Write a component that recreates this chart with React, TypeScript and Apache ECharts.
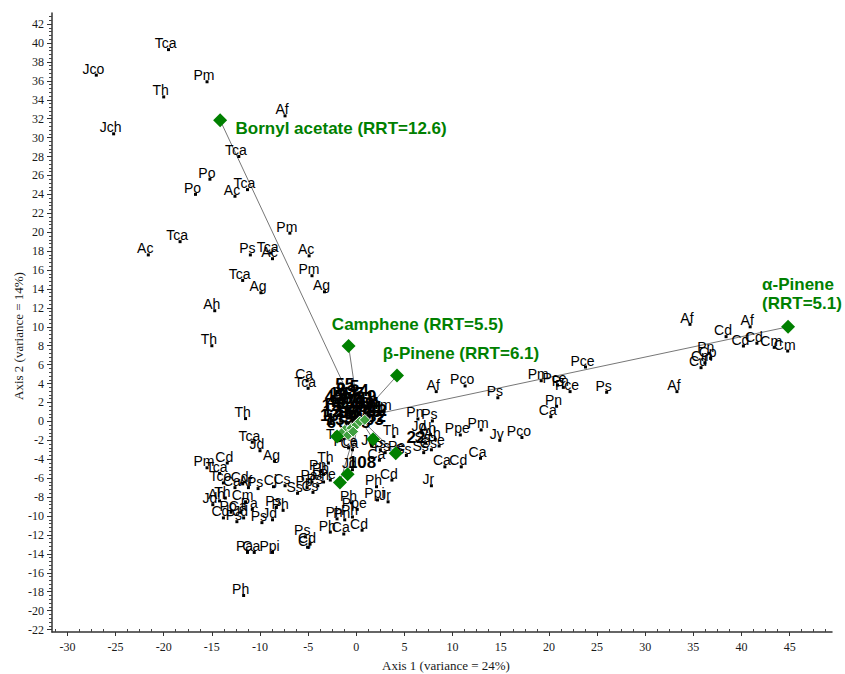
import React, { useEffect, useRef } from "react";
import * as echarts from "echarts";

// ---- axis ticks ----
const X_TICKS = [-30, -25, -20, -15, -10, -5, 0, 5, 10, 15, 20, 25, 30, 35, 40, 45];
const Y_TICKS = [-22, -20, -18, -16, -14, -12, -10, -8, -6, -4, -2, 0, 2, 4, 6, 8, 10, 12, 14, 16, 18, 20, 22, 24, 26, 28, 30, 32, 34, 36, 38, 40, 42];
const X_RANGE = [-31.6, 49.4];
const Y_RANGE = [-22.26, 43.17];

// ---- sample scores [x, y, label] ----
const samplesTop: [number, number, string][] = [
  [-19.5, 39.3, "Tca"], [-27.0, 36.6, "Jco"], [-15.5, 35.9, "Pm"], [-20.0, 34.3, "Th"],
  [-7.4, 32.3, "Af"], [-25.2, 30.4, "Jch"], [-12.2, 28.0, "Tca"], [-15.2, 25.6, "Po"],
  [-16.7, 24.0, "Po"], [-12.6, 23.8, "Ac"], [-11.3, 24.5, "Tca"], [-6.9, 19.9, "Pm"],
  [-18.3, 19.0, "Tca"], [-21.6, 17.6, "Ac"], [-11.0, 17.6, "Ps"], [-8.9, 17.8, "Tca"],
  [-8.7, 17.2, "Ac"], [-4.9, 17.5, "Ac"], [-4.6, 15.4, "Pm"], [-3.3, 13.7, "Ag"],
  [-11.8, 14.9, "Tca"], [-9.9, 13.6, "Ag"], [-14.7, 11.7, "Ah"], [-15.0, 8.0, "Th"],
  [-5.1, 4.3, "Ca"], [-5.0, 3.5, "Tca"], [-11.5, 0.3, "Th"],
];
const samplesLeft: [number, number, string][] = [
  [-10.8, -2.2, "Tca"], [-10.0, -3.1, "Jd"], [-8.5, -4.2, "Ag"], [-15.5, -4.9, "Pm"],
  [-13.4, -4.4, "Cd"], [-14.2, -5.5, "Tca"], [-13.8, -6.5, "Tco"], [-12.6, -7.0, "Ca"],
  [-11.8, -6.6, "Cd"], [-11.2, -7.0, "Af"], [-10.2, -7.1, "Ps"], [-8.6, -6.9, "Cj"],
  [-7.4, -6.8, "Cs"], [-6.1, -7.6, "Ss"], [-5.1, -7.0, "Pp"], [-4.6, -6.4, "Pa"],
  [-4.0, -6.8, "Ps"], [-4.5, -7.5, "Cs"], [-3.7, -5.3, "Pn"], [-3.4, -6.4, "Ph"],
  [-2.7, -6.2, "Pe"], [-2.9, -4.4, "Th"], [-3.4, -5.6, "Ph"], [-0.4, -5.1, "Jd"],
  [-14.9, -8.8, "Jd"], [-14.2, -8.4, "Ah"], [-13.6, -8.1, "Th"], [-11.5, -8.5, "Cm"],
  [-10.8, -9.3, "Pa"], [-13.0, -9.6, "Po"], [-12.0, -9.6, "Ca"], [-13.8, -10.2, "Cd"],
  [-12.4, -10.6, "Ps"], [-11.7, -10.2, "Jd"], [-9.8, -10.7, "Ps"], [-8.7, -10.4, "Jd"],
  [-7.6, -9.4, "Ph"], [-8.3, -9.1, "Ps"], [-11.3, -13.85, "Pa"], [-10.6, -13.85, "Ca"],
  [-8.7, -13.85, "Ppi"], [-11.7, -18.4, "Ph"], [-5.3, -12.2, "Ps"], [-5.06, -13.3, "Cj"],
  [-4.8, -12.97, "Cd"], [-2.7, -11.7, "Ph"], [-1.3, -11.9, "Ca"], [0.6, -11.5, "Cd"],
  [-2.0, -10.3, "Ph"], [-1.2, -10.4, "Pn"], [-0.4, -10.1, "Ph"], [0.1, -9.3, "Ppe"],
  [-0.5, -8.6, "Ph"],
];
const samplesRight: [number, number, string][] = [
  [2.1, -6.9, "Ph"], [3.7, -6.2, "Cd"], [2.2, -8.3, "Ppi"], [3.3, -8.5, "Jr"],
  [8.3, 3.15, "Af"], [11.3, 3.75, "Pco"], [14.7, 2.5, "Ps"], [19.2, 4.3, "Pm"],
  [20.9, 3.85, "Pce"], [21.5, 3.6, "Pn"], [22.2, 3.15, "Pce"], [23.8, 5.75, "Pce"],
  [26.0, 3.08, "Ps"], [20.8, 1.6, "Pn"], [20.2, 0.5, "Ca"], [33.3, 3.15, "Af"],
  [34.65, 10.26, "Af"], [40.9, 10.0, "Af"], [38.4, 8.96, "Cd"], [40.2, 7.97, "Cd"],
  [41.6, 8.26, "Cd"], [43.4, 7.83, "Cm"], [44.8, 7.44, "Cm"], [36.6, 7.2, "Pn"],
  [36.8, 6.67, "Cp"], [35.8, 5.68, "Cd"], [36.2, 6.2, "Cm"],
  [6.4, 0.26, "Pn"], [7.9, 0.05, "Ps"], [6.8, -1.2, "Jd"], [7.7, -1.4, "Ah"],
  [8.2, -1.9, "Ah"], [7.2, -2.3, "Ss"], [8.6, -2.6, "Pe"], [7.0, -3.3, "Ss"],
  [7.8, -3.0, "Cs"], [10.8, -1.43, "Ppe"], [12.96, -0.9, "Pm"], [14.9, -2.0, "Jv"],
  [17.2, -1.7, "Pco"], [12.9, -3.9, "Ca"], [9.2, -4.8, "Ca"], [10.9, -4.8, "Cd"],
  [7.8, -6.8, "Jr"], [3.9, -1.6, "Th"], [2.5, -3.0, "Cs"], [3.0, -3.3, "Ps"],
  [4.5, -3.3, "Pe"], [5.2, -3.6, "Ss"], [2.4, -4.1, "Ca"], [-1.7, -2.0, "Tca"],
  [-0.8, -2.8, "Pce"], [-0.4, -3.0, "Ca"], [1.6, -2.6, "Jd"], [2.9, 1.1, "Pm"],
];

// ---- compound (variable) labels near the origin ----
const loadingLabels: [number, number, string][] = [
  [-1.2, 3.85, "55"], [-0.2, 3.7, "5"], [-0.9, 2.7, "37"], [0.3, 2.9, "7"],
  [-1.4, 1.9, "1"], [0.2, 2.2, "71"], [-2.5, 1.1, "12"], [-1.2, 1.0, "15"],
  [0.0, 1.4, "47"], [1.1, 1.6, "60"], [1.6, 1.0, "28"], [2.7, 1.2, "2"],
  [-1.7, 0.2, "135"], [1.4, 0.2, "103"], [-0.3, 0.4, "94"], [-2.1, 2.1, "44"],
  [0.6, 0.7, "18"], [-0.7, 1.5, "33"], [0.9, 2.5, "81"], [-1.8, 2.9, "10"],
  [1.4, 1.9, "64"], [-0.5, 3.2, "3"], [-2.8, 0.6, "13"], [-2.6, 1.7, "19"],
  [-2.3, 2.6, "45"], [-1.6, 3.4, "8"], [-0.4, 2.4, "50"], [0.8, 3.3, "4"],
  [-0.9, 0.9, "96"], [0.4, 1.1, "77"], [1.9, 1.5, "11"], [2.1, 0.5, "32"],
  [-2.6, -0.1, "6"], [-0.9, -0.1, "52"], [0.5, -0.1, "85"], [-1.4, 2.4, "26"],
  [0.9, 1.9, "39"], [-0.2, 1.9, "58"], [1.6, 2.6, "9"],
  [6.2, -1.75, "22"], [0.6, -4.3, "108"],
];
const VECTOR_ORIGIN: [number, number] = [0.3, 0.4];
const namedVectors: [number, number, string][] = [
  [-14.14, 31.84, "Bornyl acetate (RRT=12.6)"],
  [-0.8, 7.97, "Camphene (RRT=5.5)"],
  [4.23, 4.84, "β-Pinene (RRT=6.1)"],
  [44.84, 10.0, "α-Pinene\n(RRT=5.1)"],
];
const unnamedVectors: [number, number][] = [
  [-2.0, -1.6], [1.75, -1.88], [4.1, -3.36], [-1.7, -6.46], [-0.9, -5.58],
];
const minorVectors: [number, number][] = [
  [-1.19, -0.9], [-0.5, -0.72], [0.02, -0.37], [0.36, -0.02],
  [-1.53, -1.25], [-0.85, -1.43], [-0.33, -1.08], [0.88, 0.16],
];

const GREEN = "#008000";
const labelOffsets: Record<string, { offset: number[]; align: string }> = {
  "Bornyl acetate (RRT=12.6)": { offset: [121, 8], align: "center" },
  "Camphene (RRT=5.5)": { offset: [69, -22], align: "center" },
  "β-Pinene (RRT=6.1)": { offset: [64, -22], align: "center" },
  "α-Pinene\n(RRT=5.1)": { offset: [-26, -33], align: "left" },
};

export default function App() {
  const ref = useRef<HTMLDivElement>(null);
  useEffect(() => {
    document.body.style.margin = "0";
    if (!ref.current) return;
    const chart = echarts.init(ref.current, undefined, { renderer: "svg" });

    const xMinor: number[] = [];
    for (let k = -25; k <= 39; k++) {
      const v = k * 1.25;
      if (v % 5 !== 0) xMinor.push(v);
    }
    const yMinor: number[] = [];
    for (let k = -55; k <= 107; k++) {
      const v = Math.round(k * 4) / 10;
      if (Math.abs(v % 2) > 1e-6) yMinor.push(v);
    }

    const allSamples = [...samplesTop, ...samplesLeft, ...samplesRight];
    const allVectorTips: [number, number][] = [
      ...namedVectors.map((v) => [v[0], v[1]] as [number, number]),
      ...unnamedVectors,
      ...minorVectors,
    ];

    const axisFont = { fontFamily: "Liberation Serif, Times New Roman, serif", fontSize: 12, color: "#1a1a1a" };

    chart.setOption({
      animation: false,
      grid: { left: 52, right: 13, top: 13, bottom: 42, containLabel: false },
      xAxis: [
        {
          type: "value", min: X_RANGE[0], max: X_RANGE[1],
          axisLine: { show: true, onZero: false, lineStyle: { color: "#333", width: 1.5 } },
          axisTick: { show: true, customValues: X_TICKS, length: 4, lineStyle: { color: "#333" } },
          axisLabel: { customValues: X_TICKS, margin: 9, ...axisFont },
          splitLine: { show: false },
        },
        {
          type: "value", min: X_RANGE[0], max: X_RANGE[1], position: "bottom",
          axisLine: { show: false, onZero: false },
          axisTick: { show: true, customValues: xMinor, length: 3, inside: true, lineStyle: { color: "#444" } },
          axisLabel: { show: false },
          splitLine: { show: false },
        },
      ],
      yAxis: [
        {
          type: "value", min: Y_RANGE[0], max: Y_RANGE[1],
          axisLine: { show: true, onZero: false, lineStyle: { color: "#333", width: 1.5 } },
          axisTick: { show: true, customValues: Y_TICKS, length: 5, lineStyle: { color: "#333" } },
          axisLabel: { customValues: Y_TICKS, margin: 8, ...axisFont },
          splitLine: { show: false },
        },
        {
          type: "value", min: Y_RANGE[0], max: Y_RANGE[1], position: "left",
          axisLine: { show: false, onZero: false },
          axisTick: { show: true, customValues: yMinor, length: 3, lineStyle: { color: "#444" } },
          axisLabel: { show: false },
          splitLine: { show: false },
        },
      ],
      graphic: [
        {
          type: "text", x: 446, y: 665,
          style: { text: "Axis 1 (variance = 24%)", font: "13px Liberation Serif, Times New Roman, serif", fill: "#1a1a1a", textAlign: "center", textVerticalAlign: "middle" },
        },
        {
          type: "text", x: 18, y: 336, rotation: Math.PI / 2,
          style: { text: "Axis 2 (variance = 14%)", font: "13px Liberation Serif, Times New Roman, serif", fill: "#1a1a1a", textAlign: "center", textVerticalAlign: "middle" },
        },
      ],
      series: [
        {
          type: "lines", coordinateSystem: "cartesian2d", silent: true, z: 1,
          lineStyle: { color: "#777", width: 1, opacity: 1 },
          data: allVectorTips.map((t) => ({ coords: [VECTOR_ORIGIN, t] })),
        },
        {
          type: "scatter", symbol: "rect", symbolSize: 3, silent: true, z: 2,
          itemStyle: { color: "#000", opacity: 1 },
          label: {
            show: true, position: "top", distance: 0, offset: [-3, 2],
            formatter: (p: any) => p.data[2],
            fontFamily: "Liberation Sans, Arial, sans-serif", fontSize: 14, color: "#000",
          },
          data: allSamples,
        },
        {
          type: "scatter", symbolSize: 0, silent: true, z: 3,
          itemStyle: { opacity: 1 },
          label: {
            show: true, position: "inside", formatter: (p: any) => p.data[2],
            fontFamily: "Liberation Sans, Arial, sans-serif", fontSize: 17, fontWeight: "bold", color: "#000",
          },
          data: loadingLabels,
        },
        {
          type: "scatter", symbol: "diamond", symbolSize: 11, silent: true, z: 4,
          itemStyle: { color: "#3f9f3f", borderColor: "#ffffff", borderWidth: 1, opacity: 1 },
          data: minorVectors,
        },
        {
          type: "scatter", symbol: "diamond", symbolSize: 14, silent: true, z: 5,
          itemStyle: { color: GREEN, opacity: 1 },
          data: unnamedVectors,
        },
        {
          type: "scatter", symbol: "diamond", symbolSize: 14, silent: true, z: 6,
          itemStyle: { color: GREEN, opacity: 1 },
          data: namedVectors.map((v) => ({
            value: [v[0], v[1]],
            label: {
              show: true, position: "inside", formatter: v[2],
              offset: labelOffsets[v[2]].offset, align: labelOffsets[v[2]].align,
              fontFamily: "Liberation Sans, Arial, sans-serif", fontSize: 17, fontWeight: "bold",
              color: GREEN, lineHeight: 19,
            },
          })),
        },
      ],
    });
    return () => chart.dispose();
  }, []);
  return <div ref={ref} style={{ width: 845, height: 674 }} />;
}
